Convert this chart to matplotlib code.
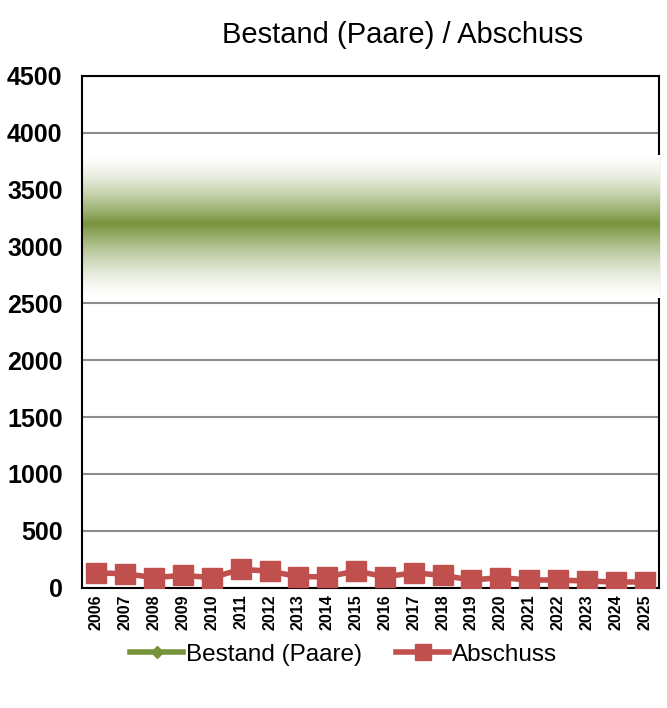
import numpy as np
import matplotlib.pyplot as plt
from matplotlib.lines import Line2D
from matplotlib.colors import to_rgb

plt.rcParams['font.family'] = ['Liberation Sans', 'DejaVu Sans']

years = [str(y) for y in range(2006, 2026)]
abschuss = [130, 122, 88, 108, 88, 160, 146, 96, 96, 146,
            96, 130, 108, 67, 88, 67, 67, 58, 50, 50]
# Bestand shown as a fuzzy band (Paare)
bestand_low = 2550
bestand_mid = 3200
bestand_high = 3800

green = '#77933C'
red = '#C0504D'

fig = plt.figure(figsize=(6.67, 7.08), dpi=100)
ax = fig.add_axes([0.123, 0.170, 0.865, 0.723])

x = np.arange(len(years))

# gradient band, white -> green -> white (opaque)
n = 300
yy = np.linspace(bestand_low, bestand_high, n)
t = np.where(yy < bestand_mid,
             (yy - bestand_low) / (bestand_mid - bestand_low),
             (bestand_high - yy) / (bestand_high - bestand_mid))
t = np.clip(t, 0, 1) ** 1.5
g = np.array(to_rgb(green))
rgb = 1 - t[:, None] * (1 - g[None, :])
img = rgb[:, None, :]
ax.imshow(img, extent=[-0.5, len(years) - 0.5 + 0.02, bestand_low, bestand_high],
          origin='lower', aspect='auto', interpolation='bilinear',
          zorder=2.6, clip_on=False)

ax.plot(x, abschuss, color=red, lw=4, marker='s', ms=14, zorder=3)

ax.set_xlim(-0.5, len(years) - 0.5)
ax.set_ylim(0, 4500)
ax.set_yticks(range(0, 4501, 500))
ax.set_xticks(x)
ax.set_xticklabels(years, rotation=90, fontsize=11.5, fontweight='bold')
for lab in ax.get_yticklabels():
    lab.set_fontsize(18)
    lab.set_fontweight('bold')
ax.tick_params(axis='y', length=0, pad=14)
ax.tick_params(axis='x', length=0, pad=5)
ax.grid(axis='y', color='#8c8c8c', lw=1.5, zorder=1)
ax.set_axisbelow(True)
for s in ax.spines.values():
    s.set_color('black')
    s.set_linewidth(1.5)
ax.spines['left'].set_zorder(3)

fig.text(0.604, 0.950, 'Bestand (Paare) / Abschuss', ha='center', va='center',
         fontsize=21)

handles = [Line2D([], [], color=green, lw=4, marker='D', ms=6),
           Line2D([], [], color=red, lw=4, marker='s', ms=12)]
fig.legend(handles, ['Bestand (Paare)', 'Abschuss'], loc='center',
           bbox_to_anchor=(0.515, 0.075), ncol=2, frameon=False, fontsize=17.5,
           handlelength=2.2, handletextpad=0.1, columnspacing=1.4)

fig.savefig('out.png', dpi=100)
